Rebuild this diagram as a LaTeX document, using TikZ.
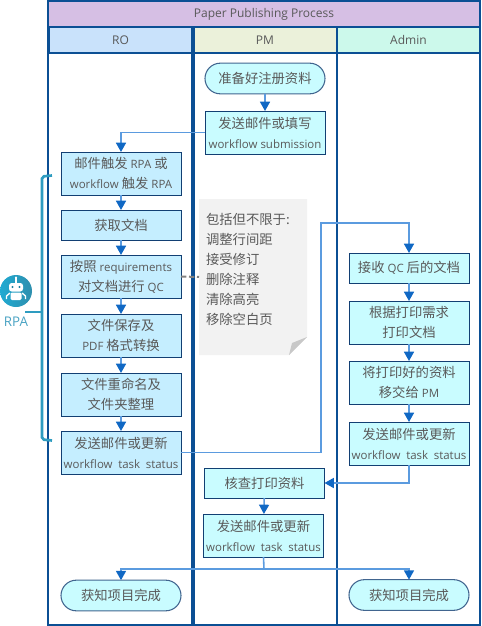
\documentclass[tikz,border=0pt]{standalone}
\usepackage{fontspec}
\setmainfont{Open Sans}
\newfontfamily\cjkfont{Noto Sans CJK SC}
\newcommand{\zh}[1]{{\cjkfont\fontsize{10}{10}\selectfont #1}}
\usetikzlibrary{arrows.meta,shapes.misc}
\definecolor{lane}{HTML}{0B4F94}
\definecolor{boxedge}{HTML}{123F73}
\definecolor{flow}{HTML}{5B9BDF}
\definecolor{tip}{HTML}{1068C4}
\definecolor{ink}{HTML}{595959}
\definecolor{teal}{HTML}{2E9CC0}
\definecolor{titlefill}{HTML}{D6BFE4}
\definecolor{rohead}{HTML}{C9E2FB}
\definecolor{pmhead}{HTML}{EBF1DA}
\definecolor{adhead}{HTML}{CCF9EB}
\definecolor{rofill}{HTML}{C5EEFF}
\definecolor{cyanfill}{HTML}{C9FCFF}
\definecolor{notefill}{HTML}{F2F2F2}
\definecolor{notefold}{HTML}{C8C8C8}
\definecolor{iconl}{HTML}{1FAAD2}
\definecolor{iconr}{HTML}{2F8FAE}
\definecolor{icone}{HTML}{1A7FA0}
\definecolor{rpatext}{HTML}{4AA3C3}
\tikzset{
  x=0.75pt,y=-0.75pt,
  every node/.style={font=\fontsize{8.6}{15}\selectfont,text=ink,align=center,inner sep=0pt,outer sep=0pt},
  headbox/.style={draw=lane,line width=1.6pt,minimum height=19.5pt,font=\fontsize{9}{15}\selectfont},
  robox/.style={draw=boxedge,line width=0.7pt,fill=#1,minimum width=90pt,minimum height=32.25pt},
  robox/.default=rofill,
  shortbox/.style={robox=#1,minimum height=22.5pt},
  shortbox/.default=rofill,
  termbox/.style={draw=boxedge!80!white,line width=0.8pt,fill=cyanfill,rounded rectangle,minimum width=90pt,minimum height=23pt},
  flowline/.style={draw=flow,line width=1.2pt,-{Triangle[length=7pt,width=7.5pt,color=tip,fill=tip]}},
  plainflow/.style={draw=flow,line width=1.2pt},
  bracket/.style={draw=teal,line width=2pt,rounded corners=1.5pt},
}
\newcommand{\wts}{workflow\hspace{2pt} task\hspace{2pt} status}
\begin{document}
\begin{tikzpicture}
\useasboundingbox (0,0) rectangle (482,626);
% lanes
\node[headbox,fill=titlefill,minimum width=324pt] (title) at (264,14) {Paper Publishing Process};
\node[headbox,fill=rohead,minimum width=108pt] (hro) at (120.5,40) {RO};
\node[headbox,fill=pmhead,minimum width=108pt] (hpm) at (265,40) {PM};
\node[headbox,fill=adhead,minimum width=107pt] (had) at (408.5,40) {Admin};
\coordinate (ftl) at (48,53); \coordinate (fbl) at (48,625);
\coordinate (ftr) at (480,53); \coordinate (fbr) at (480,625);
\coordinate (d1t) at (193,27); \coordinate (d1b) at (193,625);
\coordinate (d2t) at (337,27); \coordinate (d2b) at (337,625);
\draw[lane,line width=1.6pt] (ftl) -- (fbl) -- (fbr) -- (ftr);
\draw[lane,line width=2.4pt] (d1t) -- (d1b);
\draw[lane,line width=2pt] (d2t) -- (d2b);
% note
\fill[notefill] (199,199) -- (307,199) -- (307,337) -- (289,355) -- (199,355) -- cycle;
\fill[notefold] (307,337) -- (289,355) -- (292,343) -- cycle;
\node[anchor=north west,align=left,font=\fontsize{10}{15}\cjkfont\selectfont] (note) at (206,213.5)
 {包括但不限于:\\调整行间距\\接受修订\\删除注释\\清除高亮\\移除空白页};
\coordinate (noteleft) at (199,277);
% RO
\node[robox] (r1) at (121,173.5) {\zh{邮件触发} RPA \zh{或}\\workflow \zh{触发} RPA};
\node[shortbox] (r2) at (121,225) {\zh{获取文档}};
\node[robox] (r3) at (121,276.5) {\zh{按照} requirements\\\zh{对文档进行} QC};
\node[robox] (r4) at (121,335.5) {\zh{文件保存及}\\PDF \zh{格式转换}};
\node[robox] (r5) at (121,394.5) {\zh{文件重命名及}\\\zh{文件夹整理}};
\node[robox] (r6) at (121,452.5) {\zh{发送邮件或更新}\\\wts};
\node[termbox,fill=cyanfill] (r7) at (121,595.5) {\zh{获知项目完成}};
% PM
\node[termbox] (p1) at (265,78.5) {\zh{准备好注册资料}};
\node[robox=cyanfill] (p2) at (265,132.5) {\zh{发送邮件或填写}\\workflow submission};
\node[shortbox=cyanfill] (p3) at (264.5,483) {\zh{核查打印资料}};
\node[robox=cyanfill] (p4) at (263.5,535.5) {\zh{发送邮件或更新}\\\wts};
% Admin
\node[shortbox=cyanfill] (a1) at (409,268) {\zh{接收} QC \zh{后的文档}};
\node[robox=cyanfill] (a2) at (409,322.5) {\zh{根据打印需求}\\\zh{打印文档}};
\node[robox=cyanfill] (a3) at (409,382.5) {\zh{将打印好的资料}\\\zh{移交给} PM};
\node[robox=cyanfill] (a4) at (409,443.5) {\zh{发送邮件或更新}\\\wts};
\node[termbox] (a5) at (409,595) {\zh{获知项目完成}};
% connectors
\draw[flowline] (p1) -- (p2);
\draw[flowline] (p2.west) -| (r1.north);
\draw[flowline] (r1) -- (r2);
\draw[flowline] (r2) -- (r3);
\draw[flowline] (r3) -- (r4);
\draw[flowline] (r4) -- (r5);
\draw[flowline] (r5) -- (r6);
\coordinate (up) at (321,223);
\draw[flowline] (r6.east) -| (up) -| (a1.north);
\draw[flowline] (a1) -- (a2);
\draw[flowline] (a2) -- (a3);
\draw[flowline] (a3) -- (a4);
\draw[flowline] (a4.south) |- (p3.east);
\draw[flowline] (p3) -- (p4);
\coordinate (split) at (264,569);
\draw[plainflow] (p4.south) -- (split);
\draw[flowline] (split) -| (r7.north);
\draw[flowline] (split) -| (a5.north);
\draw[draw=gray,line width=1.5pt,dash pattern=on 4pt off 2pt] (r3.east) -- (noteleft);
% RPA
\shade[left color=iconl,right color=iconr] (16,291) circle[radius=16];
\coordinate (icon) at (25,312);
\coordinate (bt) at (52,175.5); \coordinate (bb) at (52,440.5); \coordinate (bm) at (42,312);
\draw[bracket] (bt) -- (42,176.5) -- (42,439.5) -- (bb);
\draw[draw=teal,line width=2.2pt] (icon) -- (bm);
\draw[white,line width=0.8pt] (16,278) -- (16,283);
\fill[white] (16,277.5) circle[radius=1.2];
\fill[white,rounded corners=2pt] (9,283) rectangle (23,291.5);
\fill[icone] (12.5,287) circle[radius=1.2] (19.5,287) circle[radius=1.2];
\fill[white,rounded corners=1pt] (10.5,292.5) rectangle (21.5,300);
\draw[white,line width=1pt] (10,293) -- (6.5,296) -- (6.5,299) (22,293) -- (25.5,296) -- (25.5,299);
\node[text=rpatext,font=\fontsize{10}{10}\selectfont] (rpa) at (16,322) {RPA};
\end{tikzpicture}
\end{document}
